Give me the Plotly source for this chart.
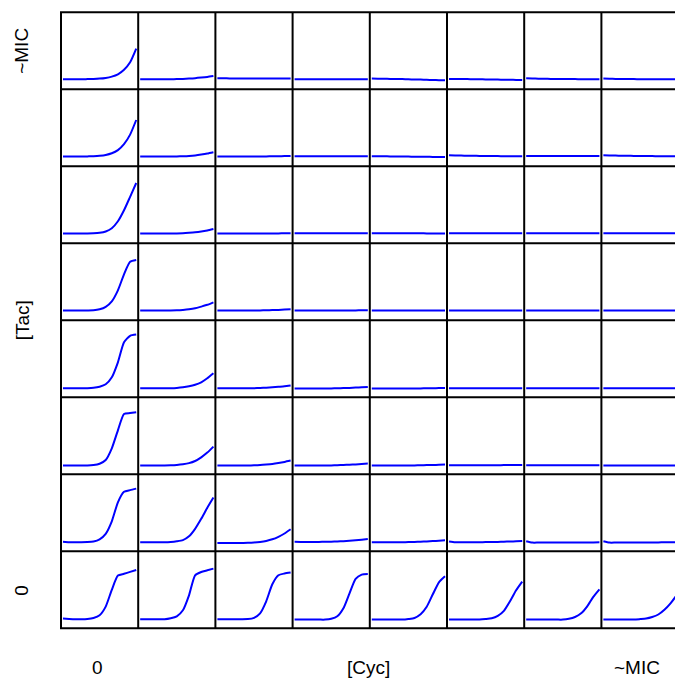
import plotly.graph_objects as go

# time points (hours)
hours = [0, 2, 4, 6, 8, 10, 12, 14, 16, 18, 20, 22, 24]

# axis labels
tac_labels = ["~MIC", "[Tac]", "0"]
cyc_labels = ["0", "[Cyc]", "~MIC"]

# OD growth curves; each row = one Tac level (top = ~MIC, bottom = 0),
# each entry within a row = one Cyc level (left = 0, right = ~MIC)
od_tac_row1 = [
    [0.100, 0.100, 0.100, 0.100, 0.102, 0.104, 0.107, 0.114, 0.127, 0.150, 0.195, 0.270, 0.407],
    [0.100, 0.100, 0.100, 0.100, 0.100, 0.101, 0.102, 0.104, 0.107, 0.111, 0.117, 0.124, 0.133],
    [0.110, 0.110, 0.109, 0.109, 0.109, 0.109, 0.108, 0.108, 0.108, 0.108, 0.107, 0.107, 0.107],
    [0.101, 0.100, 0.100, 0.100, 0.100, 0.100, 0.100, 0.100, 0.100, 0.100, 0.100, 0.100, 0.100],
    [0.107, 0.106, 0.105, 0.104, 0.103, 0.102, 0.100, 0.098, 0.097, 0.095, 0.093, 0.091, 0.090],
    [0.103, 0.103, 0.102, 0.102, 0.101, 0.100, 0.099, 0.098, 0.097, 0.096, 0.095, 0.094, 0.093],
    [0.110, 0.108, 0.106, 0.105, 0.104, 0.103, 0.103, 0.102, 0.102, 0.101, 0.101, 0.100, 0.100],
    [0.107, 0.105, 0.104, 0.103, 0.102, 0.102, 0.101, 0.101, 0.100, 0.100, 0.100, 0.100, 0.100],
]
od_tac_row2 = [
    [0.097, 0.097, 0.097, 0.097, 0.099, 0.101, 0.105, 0.113, 0.130, 0.162, 0.222, 0.317, 0.463],
    [0.097, 0.097, 0.097, 0.097, 0.097, 0.098, 0.099, 0.101, 0.104, 0.109, 0.117, 0.127, 0.140],
    [0.097, 0.097, 0.097, 0.097, 0.097, 0.097, 0.098, 0.098, 0.099, 0.100, 0.101, 0.102, 0.103],
    [0.100, 0.100, 0.100, 0.100, 0.100, 0.100, 0.100, 0.100, 0.100, 0.100, 0.100, 0.100, 0.100],
    [0.100, 0.100, 0.100, 0.099, 0.099, 0.098, 0.097, 0.096, 0.096, 0.095, 0.094, 0.094, 0.093],
    [0.110, 0.108, 0.107, 0.106, 0.105, 0.104, 0.103, 0.102, 0.102, 0.101, 0.101, 0.100, 0.100],
    [0.103, 0.103, 0.103, 0.103, 0.103, 0.103, 0.103, 0.103, 0.103, 0.103, 0.103, 0.103, 0.103],
    [0.110, 0.108, 0.107, 0.106, 0.105, 0.104, 0.103, 0.102, 0.102, 0.101, 0.101, 0.100, 0.100],
]
od_tac_row3 = [
    [0.097, 0.097, 0.097, 0.097, 0.098, 0.100, 0.105, 0.118, 0.150, 0.220, 0.330, 0.465, 0.603],
    [0.097, 0.097, 0.097, 0.097, 0.097, 0.098, 0.099, 0.101, 0.105, 0.110, 0.118, 0.129, 0.143],
    [0.097, 0.097, 0.097, 0.097, 0.097, 0.097, 0.098, 0.098, 0.098, 0.099, 0.099, 0.100, 0.100],
    [0.100, 0.100, 0.100, 0.100, 0.100, 0.100, 0.100, 0.100, 0.100, 0.100, 0.100, 0.100, 0.100],
    [0.101, 0.101, 0.101, 0.100, 0.100, 0.100, 0.100, 0.100, 0.100, 0.099, 0.099, 0.099, 0.099],
    [0.100, 0.100, 0.100, 0.100, 0.100, 0.100, 0.100, 0.100, 0.100, 0.100, 0.100, 0.100, 0.100],
    [0.101, 0.101, 0.101, 0.101, 0.100, 0.100, 0.100, 0.100, 0.100, 0.100, 0.100, 0.100, 0.100],
    [0.100, 0.100, 0.100, 0.100, 0.100, 0.100, 0.100, 0.100, 0.100, 0.100, 0.100, 0.100, 0.100],
]
od_tac_row4 = [
    [0.097, 0.097, 0.097, 0.097, 0.098, 0.100, 0.110, 0.135, 0.190, 0.300, 0.460, 0.585, 0.603],
    [0.097, 0.097, 0.097, 0.097, 0.097, 0.098, 0.100, 0.104, 0.110, 0.120, 0.137, 0.155, 0.180],
    [0.097, 0.097, 0.097, 0.097, 0.097, 0.097, 0.098, 0.099, 0.100, 0.102, 0.104, 0.107, 0.110],
    [0.097, 0.097, 0.097, 0.097, 0.097, 0.097, 0.097, 0.098, 0.098, 0.099, 0.099, 0.100, 0.100],
    [0.097, 0.097, 0.097, 0.097, 0.097, 0.097, 0.097, 0.097, 0.097, 0.097, 0.098, 0.098, 0.098],
    [0.097, 0.097, 0.097, 0.097, 0.097, 0.097, 0.097, 0.097, 0.097, 0.097, 0.097, 0.097, 0.097],
    [0.097, 0.097, 0.097, 0.097, 0.097, 0.097, 0.097, 0.097, 0.097, 0.097, 0.097, 0.097, 0.097],
    [0.097, 0.097, 0.097, 0.097, 0.097, 0.097, 0.097, 0.097, 0.097, 0.097, 0.097, 0.097, 0.097],
]
od_tac_row5 = [
    [0.090, 0.090, 0.090, 0.090, 0.091, 0.095, 0.106, 0.130, 0.200, 0.350, 0.550, 0.615, 0.627],
    [0.090, 0.090, 0.090, 0.090, 0.090, 0.091, 0.094, 0.100, 0.110, 0.125, 0.150, 0.190, 0.240],
    [0.090, 0.090, 0.090, 0.090, 0.090, 0.090, 0.091, 0.093, 0.096, 0.100, 0.105, 0.110, 0.117],
    [0.087, 0.087, 0.087, 0.087, 0.087, 0.088, 0.089, 0.090, 0.092, 0.094, 0.097, 0.100, 0.103],
    [0.087, 0.087, 0.087, 0.087, 0.087, 0.087, 0.088, 0.088, 0.089, 0.090, 0.091, 0.092, 0.093],
    [0.090, 0.090, 0.090, 0.090, 0.090, 0.090, 0.090, 0.090, 0.090, 0.090, 0.090, 0.090, 0.090],
    [0.090, 0.090, 0.090, 0.090, 0.090, 0.090, 0.090, 0.090, 0.090, 0.090, 0.090, 0.090, 0.090],
    [0.090, 0.090, 0.090, 0.090, 0.090, 0.090, 0.090, 0.090, 0.090, 0.090, 0.090, 0.090, 0.090],
]
od_tac_row6 = [
    [0.087, 0.087, 0.087, 0.087, 0.087, 0.092, 0.106, 0.143, 0.260, 0.440, 0.603, 0.612, 0.620],
    [0.087, 0.087, 0.087, 0.087, 0.088, 0.090, 0.094, 0.101, 0.112, 0.133, 0.170, 0.217, 0.277],
    [0.087, 0.087, 0.087, 0.087, 0.087, 0.088, 0.090, 0.093, 0.098, 0.104, 0.113, 0.124, 0.137],
    [0.087, 0.087, 0.087, 0.087, 0.088, 0.088, 0.089, 0.091, 0.093, 0.096, 0.099, 0.103, 0.107],
    [0.087, 0.087, 0.087, 0.087, 0.087, 0.088, 0.088, 0.089, 0.090, 0.092, 0.093, 0.095, 0.097],
    [0.090, 0.090, 0.090, 0.090, 0.090, 0.090, 0.091, 0.091, 0.091, 0.092, 0.092, 0.093, 0.093],
    [0.090, 0.090, 0.090, 0.090, 0.090, 0.090, 0.090, 0.090, 0.090, 0.090, 0.090, 0.090, 0.090],
    [0.087, 0.087, 0.087, 0.087, 0.087, 0.087, 0.087, 0.087, 0.087, 0.087, 0.087, 0.087, 0.087],
]
od_tac_row7 = [
    [0.095, 0.090, 0.090, 0.090, 0.092, 0.098, 0.120, 0.175, 0.300, 0.490, 0.595, 0.612, 0.627],
    [0.090, 0.090, 0.090, 0.090, 0.090, 0.093, 0.100, 0.112, 0.150, 0.225, 0.325, 0.435, 0.537],
    [0.083, 0.083, 0.083, 0.083, 0.084, 0.085, 0.088, 0.094, 0.104, 0.120, 0.145, 0.178, 0.220],
    [0.095, 0.094, 0.094, 0.094, 0.094, 0.095, 0.096, 0.098, 0.101, 0.105, 0.110, 0.116, 0.123],
    [0.090, 0.090, 0.090, 0.090, 0.090, 0.091, 0.092, 0.094, 0.096, 0.099, 0.102, 0.106, 0.110],
    [0.097, 0.090, 0.090, 0.090, 0.090, 0.091, 0.092, 0.093, 0.094, 0.096, 0.098, 0.100, 0.103],
    [0.100, 0.087, 0.087, 0.087, 0.087, 0.087, 0.087, 0.087, 0.087, 0.088, 0.088, 0.089, 0.090],
    [0.100, 0.087, 0.087, 0.087, 0.087, 0.087, 0.087, 0.088, 0.088, 0.089, 0.090, 0.091, 0.092],
]
od_tac_row8 = [
    [0.097, 0.093, 0.090, 0.090, 0.093, 0.103, 0.130, 0.217, 0.385, 0.527, 0.545, 0.564, 0.583],
    [0.090, 0.090, 0.090, 0.090, 0.090, 0.100, 0.120, 0.180, 0.330, 0.530, 0.563, 0.580, 0.597],
    [0.090, 0.090, 0.090, 0.090, 0.090, 0.092, 0.105, 0.150, 0.270, 0.440, 0.530, 0.548, 0.558],
    [0.087, 0.087, 0.087, 0.087, 0.087, 0.087, 0.095, 0.120, 0.200, 0.350, 0.495, 0.537, 0.543],
    [0.087, 0.087, 0.087, 0.087, 0.087, 0.087, 0.093, 0.103, 0.140, 0.215, 0.340, 0.460, 0.520],
    [0.087, 0.087, 0.087, 0.087, 0.087, 0.087, 0.092, 0.100, 0.125, 0.175, 0.270, 0.380, 0.467],
    [0.087, 0.087, 0.087, 0.087, 0.087, 0.087, 0.087, 0.095, 0.113, 0.150, 0.220, 0.315, 0.390],
    [0.087, 0.087, 0.087, 0.087, 0.087, 0.087, 0.092, 0.098, 0.113, 0.138, 0.185, 0.250, 0.330],
]

rows = [od_tac_row1, od_tac_row2, od_tac_row3, od_tac_row4,
        od_tac_row5, od_tac_row6, od_tac_row7, od_tac_row8]

# ---------------- layout geometry (pixels) ----------------
W, H = 675, 687
LEFT, TOP = 61.0, 12.3
CW, CH = 77.2, 77.0
NR, NC = 8, 8
X_RANGE = [-0.65, 24.65]
Y_RANGE = [0.0, 0.77]

fig = go.Figure()
layout = {}
for r in range(NR):
    for c in range(NC):
        k = r * NC + c + 1
        x0 = LEFT + c * CW
        x1 = x0 + CW
        xr = list(X_RANGE)
        if x1 > W:
            xr[1] = X_RANGE[0] + (X_RANGE[1] - X_RANGE[0]) * (W - x0) / CW
            x1 = W
        ytop = TOP + r * CH
        ybot = ytop + CH
        sfx = "" if k == 1 else str(k)
        fig.add_trace(go.Scatter(
            x=hours, y=rows[r][c], mode="lines",
            line=dict(color="#0000ff", width=2, shape="spline", smoothing=0.6),
            xaxis="x" + sfx, yaxis="y" + sfx,
            hoverinfo="skip", showlegend=False,
        ))
        layout["xaxis" + sfx] = dict(domain=[x0 / W, x1 / W], range=xr, visible=False,
                                     anchor="y" + sfx, fixedrange=True)
        layout["yaxis" + sfx] = dict(domain=[1 - ybot / H, 1 - ytop / H], range=Y_RANGE,
                                     visible=False, anchor="x" + sfx, fixedrange=True)

shapes = []
grid_bottom = TOP + NR * CH
grid_right = LEFT + NC * CW
for c in range(NC + 1):
    xp = LEFT + c * CW
    if xp > W:
        continue
    shapes.append(dict(type="line", xref="paper", yref="paper",
                       x0=xp / W, x1=xp / W, y0=1 - TOP / H, y1=1 - grid_bottom / H,
                       line=dict(color="black", width=2)))
for r in range(NR + 1):
    yp = TOP + r * CH
    shapes.append(dict(type="line", xref="paper", yref="paper",
                       x0=(LEFT - 1) / W, x1=grid_right / W, y0=1 - yp / H, y1=1 - yp / H,
                       line=dict(color="black", width=2)))

font = dict(family="Liberation Sans, Arial, sans-serif", size=19, color="black")
annotations = []
# y-side labels (Tac)
for lab, yp in zip(tac_labels, [TOP + 0.5 * CH, TOP + NR * CH / 2, TOP + (NR - 0.5) * CH]):
    annotations.append(dict(text=lab, xref="paper", yref="paper", x=22 / W, y=1 - yp / H,
                            xanchor="center", yanchor="middle", textangle=-90,
                            showarrow=False, font=font))
# x-side labels (Cyc)
for lab, xp in zip(cyc_labels, [97, 368, 637]):
    annotations.append(dict(text=lab, xref="paper", yref="paper", x=xp / W, y=1 - 667 / H,
                            xanchor="center", yanchor="middle",
                            showarrow=False, font=font))

fig.update_layout(
    width=W, height=H,
    margin=dict(l=0, r=0, t=0, b=0),
    paper_bgcolor="white", plot_bgcolor="white",
    shapes=shapes, annotations=annotations,
    **layout,
)
fig.write_html(
    "out.html",
    config={"displayModeBar": False, "staticPlot": True},
    post_script="document.body.style.margin='0';document.body.style.overflow='hidden';",
)
